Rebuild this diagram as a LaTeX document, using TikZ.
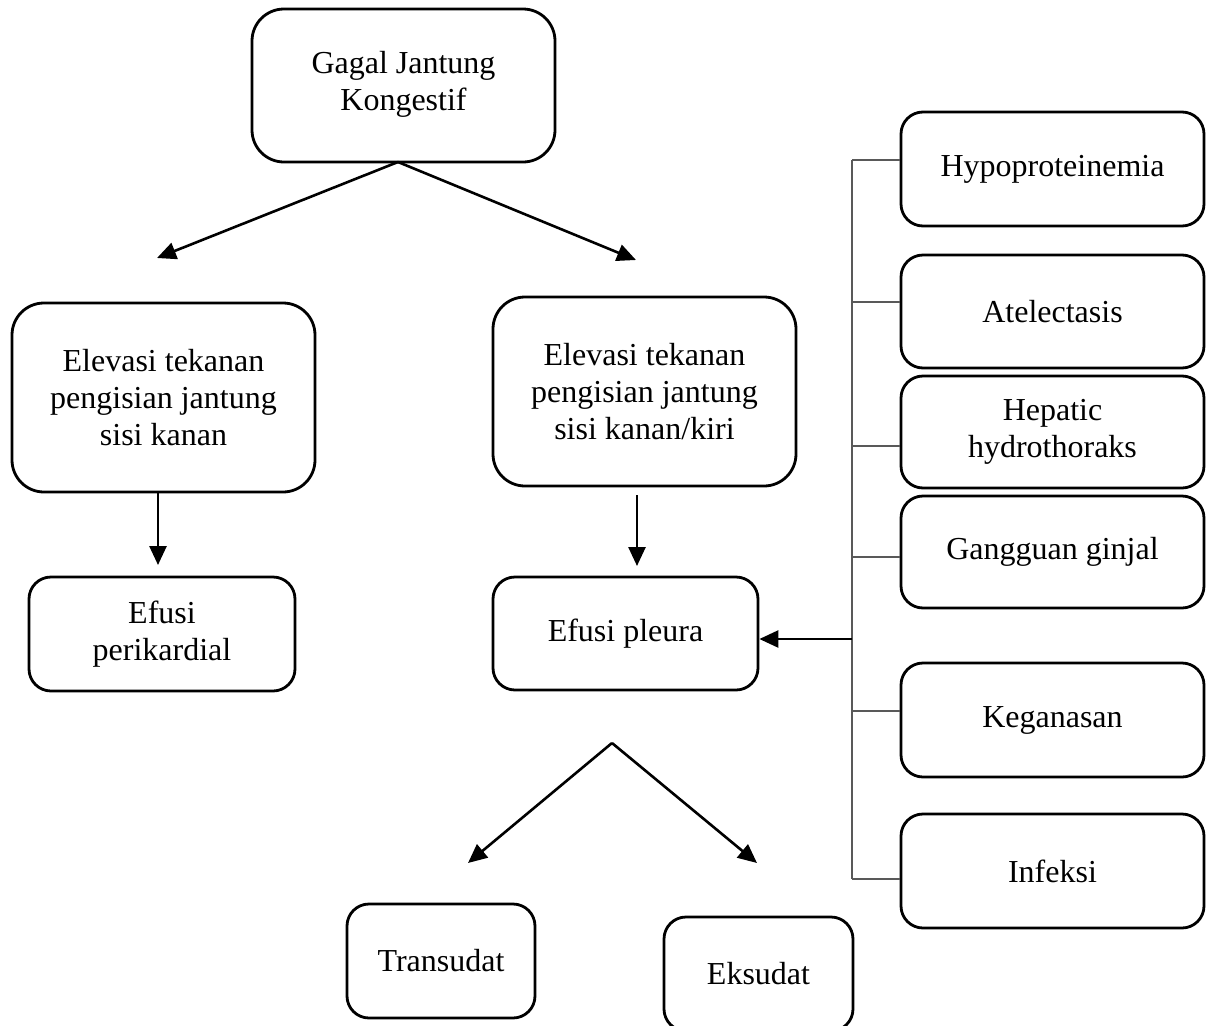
\documentclass[tikz,border=0pt]{standalone}
\usepackage{fontspec}
\setmainfont{Liberation Serif}
\usetikzlibrary{arrows.meta}
\begin{document}
\begin{tikzpicture}[x=1pt,y=-1pt,
  box/.style={draw=black, line width=2.8pt, rounded corners=22pt, align=center, inner sep=0pt,
    font=\fontsize{32}{37}\selectfont},
  bigbox/.style={box, rounded corners=32pt},
  arr/.style={line width=2.6pt, -{Triangle[length=19pt,width=17pt]}},
  tick/.style={draw=black!65, line width=1.6pt}]
\clip (0,0) rectangle (1211,1026);
\fill[white] (0,0) rectangle (1211,1026);

% boxes
\node[bigbox, minimum width=303pt, minimum height=153pt, text depth=10pt] (top) at (403.5,85.5) {Gagal Jantung\\Kongestif};
\node[bigbox, minimum width=303pt, minimum height=189pt] (left) at (163.5,397.5) {Elevasi tekanan\\pengisian jantung\\sisi kanan};
\node[bigbox, minimum width=303pt, minimum height=189pt] (mid) at (644.5,391.5) {Elevasi tekanan\\pengisian jantung\\sisi kanan/kiri};
\node[box, minimum width=266pt, minimum height=114pt] (peri) at (162,634) {Efusi\\perikardial};
\node[box, minimum width=265pt, minimum height=113pt] (pleura) at (625.5,633.5) {Efusi pleura};

\node[box, minimum width=303pt, minimum height=114pt] (hypo) at (1052.5,169) {Hypoproteinemia};
\node[box, minimum width=303pt, minimum height=113pt] (atel) at (1052.5,311.5) {Atelectasis};
\node[box, minimum width=303pt, minimum height=112pt] (hep) at (1052.5,432) {Hepatic\\hydrothoraks};
\node[box, minimum width=303pt, minimum height=112pt] (gang) at (1052.5,552) {Gangguan ginjal};
\node[box, minimum width=303pt, minimum height=114pt] (keg) at (1052.5,720) {Keganasan};
\node[box, minimum width=303pt, minimum height=114pt] (inf) at (1052.5,871) {Infeksi};

\node[box, minimum width=188pt, minimum height=114pt] (trans) at (441,961) {Transudat};
\node[box, minimum width=189pt, minimum height=114pt] (eks) at (758.5,974) {Eksudat};

% top fork
\coordinate (f1) at (398,162);
\coordinate (f1l) at (157,258);
\coordinate (f1r) at (636,260);
\draw[arr] (f1) -- (f1l);
\draw[arr] (f1) -- (f1r);

% down arrows
\coordinate (d1s) at (158,492);
\coordinate (d1e) at (158,565);
\draw[arr] (d1s) -- (d1e);
\coordinate (d2s) at (637,495);
\coordinate (d2e) at (637,566);
\draw[arr] (d2s) -- (d2e);

% spine on the right
\coordinate (s1) at (852,160);
\coordinate (s2) at (852,302);
\coordinate (s3) at (852,446);
\coordinate (s4) at (852,557);
\coordinate (s5) at (852,711);
\coordinate (s6) at (852,879);
\coordinate (sa) at (852,639);
\draw[tick] (s1) -- (s6);
\draw[tick] (s1) -- (s1 -| hypo.west);
\draw[tick] (s2) -- (s2 -| atel.west);
\draw[tick] (s3) -- (s3 -| hep.west);
\draw[tick] (s4) -- (s4 -| gang.west);
\draw[tick] (s5) -- (s5 -| keg.west);
\draw[tick] (s6) -- (s6 -| inf.west);
\draw[arr] (sa) -- (sa -| pleura.east);

% bottom fork
\coordinate (f2) at (612,743);
\coordinate (f2l) at (468,863);
\coordinate (f2r) at (757,863);
\draw[arr] (f2) -- (f2l);
\draw[arr] (f2) -- (f2r);
\end{tikzpicture}
\end{document}
